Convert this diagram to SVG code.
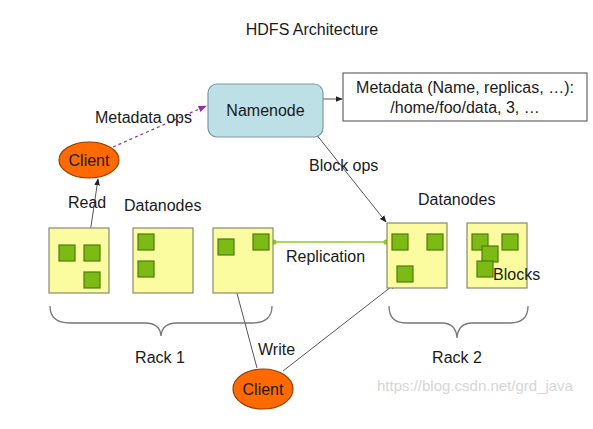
<svg xmlns="http://www.w3.org/2000/svg" width="593" height="429" viewBox="0 0 593 429">
<style>
text{font-family:"Liberation Sans",Arial,sans-serif;font-size:16px;fill:#1a1a1a}
.dn{fill:#fbfb9f;stroke:#8a8a70;stroke-width:1.2}
.blk{fill:#7cbb14;stroke:#4f7a10;stroke-width:1.2}
.cl{fill:#ff6a00;stroke:#9a3c00;stroke-width:1.2}
.ln{stroke:#555;stroke-width:1;fill:none}
.br{stroke:#777;stroke-width:1.3;fill:none}
</style>
<defs>
<marker id="ah" viewBox="0 0 10 10" refX="9" refY="5" markerWidth="7" markerHeight="7" orient="auto"><path d="M0,1 L10,5 L0,9 z" fill="#222"/></marker>
<marker id="ap" viewBox="0 0 10 10" refX="9" refY="5" markerWidth="7" markerHeight="7" orient="auto"><path d="M0,1 L10,5 L0,9 z" fill="#9b2c9b"/></marker>
<marker id="ag" viewBox="0 0 10 10" refX="5" refY="5" markerWidth="5" markerHeight="5" orient="auto"><circle cx="5" cy="5" r="4" fill="#8ccc1c"/></marker>
</defs>
<rect width="593" height="429" fill="#fff"/>
<text x="312" y="35" text-anchor="middle" style="font-size:16px">HDFS Architecture</text>

<g id="connectors">
<line class="ln" x1="323" y1="99" x2="342" y2="99" marker-end="url(#ah)"/>
<line x1="113" y1="147" x2="206" y2="106" stroke="#9b2c9b" stroke-width="1.2" stroke-dasharray="3,3" marker-end="url(#ap)"/>
<line class="ln" x1="90" y1="233" x2="98" y2="179" marker-end="url(#ah)"/>
<line class="ln" x1="316" y1="134" x2="386" y2="222" marker-end="url(#ah)"/>
<line x1="274" y1="242" x2="386" y2="242" stroke="#8ccc1c" stroke-width="1.3" marker-start="url(#ag)" marker-end="url(#ag)"/>
<line class="ln" x1="257" y1="368" x2="227" y2="256" marker-end="url(#ah)"/>
<line class="ln" x1="283" y1="371" x2="396" y2="283" marker-end="url(#ah)"/>
</g>

<g id="namenode">
<rect x="208" y="84" width="115" height="53" rx="9" fill="#bde0e6" stroke="#7a9aa0" stroke-width="1.2"/>
<text x="265.5" y="116" text-anchor="middle">Namenode</text>
</g>

<g id="metadata">
<rect x="343" y="73" width="244" height="48" fill="#fff" stroke="#666" stroke-width="1.2"/>
<text x="465" y="93" text-anchor="middle">Metadata (Name, replicas, …):</text>
<text x="465" y="113" text-anchor="middle">/home/foo/data, 3, …</text>
</g>

<g id="client-read">
<ellipse class="cl" cx="89" cy="160" rx="30" ry="18"/>
<text x="89" y="166" text-anchor="middle">Client</text>
</g>

<g id="client-write">
<ellipse class="cl" cx="263" cy="389" rx="30" ry="20"/>
<text x="263" y="395" text-anchor="middle">Client</text>
</g>

<g id="dn1">
<rect class="dn" x="49" y="228" width="60" height="65"/>
<rect class="blk" x="59" y="245" width="16" height="16"/>
<rect class="blk" x="84" y="245" width="16" height="16"/>
<rect class="blk" x="84" y="272" width="16" height="16"/>
</g>
<g id="dn2">
<rect class="dn" x="133" y="228" width="60" height="65"/>
<rect class="blk" x="138" y="234" width="16" height="16"/>
<rect class="blk" x="138" y="261" width="16" height="16"/>
</g>
<g id="dn3">
<rect class="dn" x="213" y="228" width="60" height="65"/>
<rect class="blk" x="218" y="239" width="16" height="16"/>
<rect class="blk" x="253" y="234" width="16" height="16"/>
</g>
<g id="dn4">
<rect class="dn" x="387" y="223" width="60" height="65"/>
<rect class="blk" x="392" y="234" width="16" height="16"/>
<rect class="blk" x="427" y="234" width="16" height="16"/>
<rect class="blk" x="397" y="266" width="16" height="16"/>
</g>
<g id="dn5">
<rect class="dn" x="467" y="223" width="60" height="65"/>
<rect class="blk" x="472" y="234" width="16" height="16"/>
<rect class="blk" x="502" y="234" width="16" height="16"/>
<rect class="blk" x="482" y="246" width="16" height="16"/>
<rect class="blk" x="477" y="261" width="16" height="16"/>
</g>

<g id="braces">
<path class="br" d="M50,306 Q50,323 70,323 L145,323 Q160,323 161,336 Q162,323 177,323 L252,323 Q272,323 272,306"/>
<path class="br" d="M389,306 Q389,323 406,323 L442,323 Q456,323 457,338 Q458,323 472,323 L510,323 Q528,323 528,306"/>
</g>

<g id="labels">
<text x="95" y="123">Metadata ops</text>
<text x="68" y="208">Read</text>
<text x="124" y="211">Datanodes</text>
<text x="309" y="171">Block ops</text>
<text x="418" y="205">Datanodes</text>
<text x="286" y="262">Replication</text>
<text x="493" y="280">Blocks</text>
<text x="258" y="355">Write</text>
<text x="160" y="363" text-anchor="middle">Rack 1</text>
<text x="457" y="363" text-anchor="middle">Rack 2</text>
<text x="377" y="391" style="fill:#d6d6d6;font-size:15px">https://blog.csdn.net/grd_java</text>
</g>
</svg>
